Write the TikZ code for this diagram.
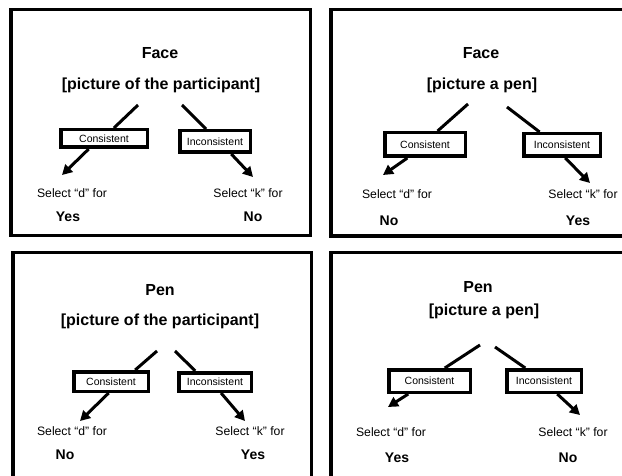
\documentclass[tikz,border=0pt]{standalone}
\usepackage{fontspec}
\setmainfont{Liberation Sans}
\usetikzlibrary{arrows.meta,calc}
\tikzset{
  panel/.style={draw=black,line width=3.3pt},
  ttl/.style={font=\fontsize{16}{19}\selectfont\bfseries,inner sep=0pt},
  choice/.style={draw=black,line width=3.5pt,inner sep=0pt,font=\fontsize{10.5}{12}\selectfont},
  sel/.style={font=\fontsize{12.2}{14}\selectfont,inner sep=0pt},
  ans/.style={font=\fontsize{14}{16}\selectfont\bfseries,inner sep=0pt},
  diag/.style={line width=3pt},
  arr/.style={line width=3pt,-{Triangle[length=10pt,width=10.5pt]}}
}
\begin{document}
\begin{tikzpicture}[x=1pt,y=-1pt]
\useasboundingbox (0,0) rectangle (622,476);
\clip (0,0) rectangle (622,476);
\fill[white] (0,0) rectangle (622,476);
% panels
\draw[panel] (11,9.5) rectangle (310.5,235.5);
\draw[panel] (331,9.5) rectangle (640,236);
\draw[panel] (13,252.5) rectangle (311.5,500);
\draw[panel] (331,252.5) rectangle (640,500);

% ---------- top left ----------
\node[ttl] (t1) at (160,53) {Face};
\node[ttl] (s1) at (161,85) {[picture of the participant]};
\coordinate (l1) at (138,105);
\coordinate (r1) at (182,105);
\node[choice,minimum width=86.5pt,minimum height=17.5pt] (c1) at (104,138.5) {Consistent};
\node[choice,minimum width=70.5pt,minimum height=21.5pt] (i1) at (215,141.5) {Inconsistent};
\draw[diag] (l1) -- ($(c1.north west)!0.61!(c1.north east)$);
\draw[diag] (r1) -- ($(i1.north west)!0.38!(i1.north east)$);
\coordinate (e1) at (62,175);
\coordinate (f1) at (253,177);
\draw[arr] ($(c1.south west)!0.33!(c1.south east)$) -- (e1);
\draw[arr] ($(i1.south west)!0.72!(i1.south east)$) -- (f1);
\node[sel] (d1) at (72,193) {Select “d” for};
\node[sel] (k1) at (248,193) {Select “k” for};
\node[ans] (y1) at (68,217) {Yes};
\node[ans] (n1) at (253,217) {No};

% ---------- top right ----------
\node[ttl] (t2) at (481,53) {Face};
\node[ttl] (s2) at (482,85) {[picture a pen]};
\coordinate (l2) at (468,104);
\coordinate (r2) at (507,107);
\node[choice,minimum width=80.5pt,minimum height=23.5pt] (c2) at (425,144.5) {Consistent};
\node[choice,minimum width=76.5pt,minimum height=22.5pt] (i2) at (562,145) {Inconsistent};
\draw[diag] (l2) -- ($(c2.north west)!0.65!(c2.north east)$);
\draw[diag] (r2) -- ($(i2.north west)!0.22!(i2.north east)$);
\coordinate (e2) at (383,175);
\coordinate (f2) at (590,183);
\draw[arr] ($(c2.south west)!0.29!(c2.south east)$) -- (e2);
\draw[arr] ($(i2.south west)!0.54!(i2.south east)$) -- (f2);
\node[sel] (d2) at (397,194) {Select “d” for};
\node[sel] (k2) at (583,194) {Select “k” for};
\node[ans] (n2) at (389,221) {No};
\node[ans] (y2) at (578,221) {Yes};

% ---------- bottom left ----------
\node[ttl] (t3) at (160,290) {Pen};
\node[ttl] (s3) at (160,321) {[picture of the participant]};
\coordinate (l3) at (157,351);
\coordinate (r3) at (175,351);
\node[choice,minimum width=74.5pt,minimum height=19.5pt] (c3) at (111,381.5) {Consistent};
\node[choice,minimum width=72.5pt,minimum height=18.5pt] (i3) at (215,382) {Inconsistent};
\draw[diag] (l3) -- ($(c3.north west)!0.81!(c3.north east)$);
\draw[diag] (r3) -- ($(i3.north west)!0.24!(i3.north east)$);
\coordinate (e3) at (80,421);
\coordinate (f3) at (245,421);
\draw[arr] ($(c3.south west)!0.47!(c3.south east)$) -- (e3);
\draw[arr] ($(i3.south west)!0.58!(i3.south east)$) -- (f3);
\node[sel] (d3) at (72,431) {Select “d” for};
\node[sel] (k3) at (250,431) {Select “k” for};
\node[ans] (n3) at (65,455) {No};
\node[ans] (y3) at (253,455) {Yes};

% ---------- bottom right ----------
\node[ttl] (t4) at (478,287) {Pen};
\node[ttl] (s4) at (484,311) {[picture a pen]};
\coordinate (l4) at (480,345);
\coordinate (r4) at (495,347);
\node[choice,minimum width=81.5pt,minimum height=22.5pt] (c4) at (429.5,381) {Consistent};
\node[choice,minimum width=74.5pt,minimum height=22.5pt] (i4) at (544,381) {Inconsistent};
\draw[diag] (l4) -- ($(c4.north west)!0.68!(c4.north east)$);
\draw[diag] (r4) -- ($(i4.north west)!0.26!(i4.north east)$);
\coordinate (e4) at (388,407);
\coordinate (f4) at (580,415);
\draw[arr] ($(c4.south west)!0.25!(c4.south east)$) -- (e4);
\draw[arr] ($(i4.south west)!0.67!(i4.south east)$) -- (f4);
\node[sel] (d4) at (391,432) {Select “d” for};
\node[sel] (k4) at (573,432) {Select “k” for};
\node[ans] (y4) at (397,458) {Yes};
\node[ans] (n4) at (568,458) {No};
\end{tikzpicture}
\end{document}
